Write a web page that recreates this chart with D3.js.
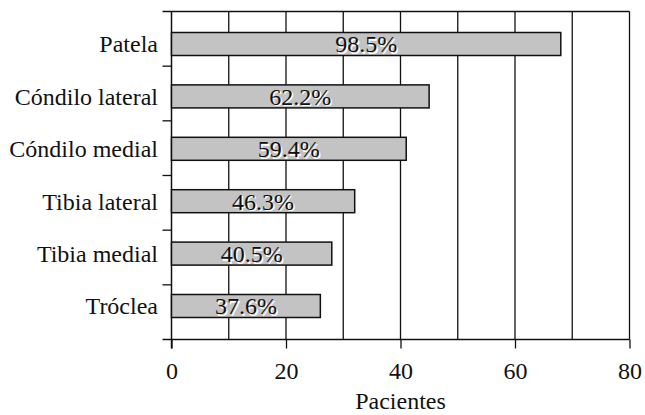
<!DOCTYPE html>
<html>
<head>
<meta charset="utf-8">
<script src="https://cdn.jsdelivr.net/npm/d3@7"></script>
<style>
  body { margin: 0; background: #fff; }
</style>
</head>
<body>
<svg id="chart" width="645" height="415"></svg>
<script>
// data
const categories = ["Patela", "Cóndilo lateral", "Cóndilo medial", "Tibia lateral", "Tibia medial", "Tróclea"];
const patients = [68, 45, 41, 32, 28, 26];
const percentLabels = ["98.5%", "62.2%", "59.4%", "46.3%", "40.5%", "37.6%"];
const xTicks = [0, 20, 40, 60, 80];
const gridValues = [10, 20, 30, 40, 50, 60, 70, 80];

const LEFT = 171.5, RIGHT = 629.5, TOP = 11.5, BOTTOM = 339.5;
const BAR_HEIGHT = 23, FONT_SIZE = 24;
const FONT = '"Times New Roman", Tinos, FreeSerif, serif';
const INK = "#111";

const svg = d3.select("#chart");

const x = d3.scaleLinear().domain([0, 80]).range([LEFT, RIGHT]);
// category bands (for the axis ticks) and bar centres, which drift a bit in the original
const yBand = d3.scaleBand().domain(categories).range([TOP, BOTTOM]);
const yBar = d3.scalePoint().domain(categories).range([44, 306]);

// set font on a text selection (style, so nothing overrides it)
function serif(sel)
{
  return sel.style("font-family", FONT).style("font-size", FONT_SIZE + "px").style("fill", INK);
}

// gridlines
svg.append("g").selectAll("line").data(gridValues).join("line")
    .attr("x1", d => x(d)).attr("x2", d => x(d))
    .attr("y1", TOP).attr("y2", BOTTOM)
    .attr("stroke", INK).attr("stroke-width", 1.3);

// top border, extends like a tick to the left
svg.append("line")
    .attr("x1", LEFT - 9).attr("x2", RIGHT)
    .attr("y1", TOP).attr("y2", TOP)
    .attr("stroke", INK).attr("stroke-width", 1.3);

// y axis with ticks at category boundaries
const yAxis = svg.append("g");
yAxis.append("line")
    .attr("x1", LEFT).attr("x2", LEFT)
    .attr("y1", TOP).attr("y2", BOTTOM + 9)
    .attr("stroke", INK).attr("stroke-width", 1.5);
yAxis.selectAll("line.tick").data(categories.slice(1)).join("line")
    .attr("class", "tick")
    .attr("x1", LEFT - 9).attr("x2", LEFT)
    .attr("y1", d => yBand(d)).attr("y2", d => yBand(d))
    .attr("stroke", INK).attr("stroke-width", 1.3);
yAxis.selectAll("text").data(categories).join("text")
    .attr("x", 158)
    .attr("y", d => yBar(d))
    .attr("dy", "0.35em")
    .attr("text-anchor", "end")
    .call(serif)
    .text(d => d);

// x axis
const xAxis = svg.append("g").attr("transform", `translate(0,${BOTTOM})`)
    .call(d3.axisBottom(x).tickValues(xTicks).tickSize(9).tickPadding(13).tickSizeOuter(0));
xAxis.select(".domain").remove();
xAxis.append("line")
    .attr("x1", LEFT - 9).attr("x2", RIGHT)
    .attr("stroke", INK).attr("stroke-width", 1.5);
xAxis.selectAll(".tick line").attr("stroke", INK).attr("stroke-width", 1.3);
xAxis.selectAll(".tick text").call(serif);

svg.append("text")
    .attr("x", (LEFT + RIGHT) / 2)
    .attr("y", 409)
    .attr("text-anchor", "middle")
    .call(serif)
    .text("Pacientes");

// bars
svg.append("g").selectAll("rect").data(patients).join("rect")
    .attr("x", x(0))
    .attr("y", (d, i) => yBar(categories[i]) - BAR_HEIGHT / 2)
    .attr("width", d => x(d) - x(0))
    .attr("height", BAR_HEIGHT)
    .attr("fill", "#c3c3c3")
    .attr("stroke", INK)
    .attr("stroke-width", 1.5);

// value labels with a white offset shadow
const labels = svg.append("g");
[["#fff", 1.5], [INK, 0]].forEach(([col, off]) => {
  labels.append("g").selectAll("text").data(patients).join("text")
      .attr("x", (d, i) => (x(0) + x(d)) / 2 + off)
      .attr("y", (d, i) => yBar(categories[i]) + off)
      .attr("dy", "0.35em")
      .attr("text-anchor", "middle")
      .call(serif)
      .style("fill", col)
      .text((d, i) => percentLabels[i]);
});
</script>
</body>
</html>
